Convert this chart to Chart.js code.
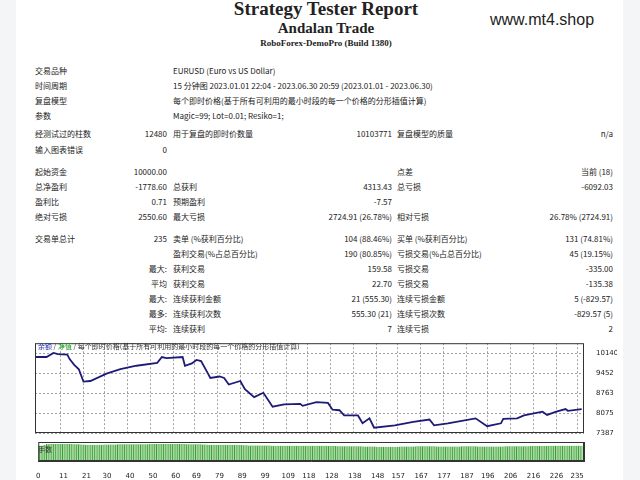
<!DOCTYPE html>
<html>
<head>
<meta charset="utf-8">
<script src="https://cdn.jsdelivr.net/npm/chart.js"></script>
<style>
  body { margin: 0; width: 640px; height: 480px; background: #f4f5f7; overflow: hidden; position: relative;
         font-family: "Noto Sans CJK SC", "DejaVu Sans", sans-serif; font-size: 8px; color: #222; }
  #page { position: absolute; left: 16px; top: 0; width: 607px; height: 480px; background: #fff; z-index: 0; }
  .t { position: absolute; white-space: nowrap; line-height: 10px; z-index: 2; }
  .r { text-align: right; }
  .serif { font-family: "Liberation Serif", "DejaVu Serif", serif; font-weight: bold; text-align: center; width: 400px; left: 110px; }
  .box { position: absolute; z-index: 1; }
</style>
</head>
<body>
<div id="page"></div>
<div class="box" style="left:33px; top:335px; width:600px; height:108px;"><canvas id="equity" width="600" height="108"></canvas></div>
<div class="box" style="left:33px; top:440px; width:600px; height:40px;"><canvas id="lots" width="600" height="40"></canvas></div>
<div class="t" style="left:38px; top:341px; font-size:7px; color:#333;"><span style="color:#2233aa">余额</span> / <span style="color:#119911">净值</span> / 每个即时价格(基于所有可利用的最小时段的每一个价格的分形插值计算)</div>
<div class="t" style="left:38px; top:444px; font-size:7px; color:#333;">手数</div>
<script>
// equity curve (trade number, balance)
const tradeNo = [0, 5, 8, 10, 14, 15, 17, 19, 21, 24, 31, 37, 44, 53, 55, 57, 64, 65, 68, 70, 72, 75, 76, 80, 82, 84, 89, 91, 95, 99,
  103, 108, 115, 116, 122, 127, 129, 132, 134, 140, 142, 145, 147, 156, 164, 171, 173, 179, 191, 196, 202, 203, 209, 212, 220, 222, 226, 230, 231, 237];
const balance = [10000, 10000, 10140, 10100, 10080, 9930, 9730, 9580, 9155, 9175, 9430, 9580, 9700, 9800, 10000, 9960, 10000, 9700, 9780, 9900, 9860, 9430, 9280, 9330, 9280, 9055, 9175, 8895, 8620, 8770,
  8290, 8370, 8390, 8320, 8450, 8420, 8190, 8170, 7990, 7990, 7720, 7890, 7570, 7650, 7770, 7850, 7650, 7720, 7890, 7620, 7720, 7870, 7890, 7990, 8120, 8010, 8120, 8210, 8150, 8210];
const yTicks = [7387, 8075, 8763, 9452, 10140];
const xTicks = [0, 11, 21, 30, 40, 50, 60, 69, 79, 89, 99, 109, 118, 128, 138, 148, 157, 167, 177, 187, 196, 206, 216, 226, 235];
// lot size per trade
const lots = [
  .08, .08, .08, .085, .09, .09, .09, .09, .09, .09,
  .09, .09, .09, .09, .09, .09, .088, .088, .088, .087,
  .087, .086, .086, .086, .086, .086, .086, .086, .086, .087,
  .087, .087, .087, .087, .087, .088, .088, .088, .088, .088,
  .088, .088, .088, .088, .088, .088, .088, .088, .088, .089,
  .089, .089, .089, .089, .089, .089, .089, .089, .089, .09,
  .09, .09, .09, .09, .09, .088, .088, .088, .088, .088,
  .088, .088, .087, .087, .086, .086, .086, .086, .086, .086,
  .086, .086, .085, .085, .085, .085, .085, .085, .084, .084,
  .083, .083, .082, .082, .082, .082, .082, .082, .082, .082,
  .081, .081, .080, .080, .080, .080, .080, .080, .080, .080,
  .080, .080, .080, .080, .080, .080, .080, .080, .080, .080,
  .080, .080, .080, .080, .080, .080, .080, .079, .079, .079,
  .079, .078, .078, .078, .078, .078, .078, .078, .078, .078,
  .077, .077, .076, .076, .076, .076, .076, .076, .075, .075,
  .075, .075, .075, .075, .075, .075, .075, .075, .076, .076,
  .076, .076, .076, .076, .076, .077, .077, .077, .077, .077,
  .077, .077, .077, .077, .076, .076, .076, .076, .076, .076,
  .076, .076, .076, .076, .076, .077, .077, .077, .077, .077,
  .077, .077, .076, .076, .076, .076, .076, .076, .076, .076,
  .076, .076, .076, .076, .077, .077, .077, .077, .077, .077,
  .078, .078, .078, .078, .078, .079, .079, .079, .079, .079,
  .079, .079, .079, .080, .080, .080, .080, .080, .080, .080,
  .080, .080, .080, .080, .080, .080, .080, .080];

// report text rows: [centre y, label1, value1, label2, value2, label3, value3]
const rows = [
  [71, '交易品种', '', 'EURUSD (Euro vs US Dollar)'],
  [86, '时间周期', '', '15 分钟图 2023.01.01 22:04 - 2023.06.30 20:59 (2023.01.01 - 2023.06.30)'],
  [101, '复盘模型', '', '每个即时价格(基于所有可利用的最小时段的每一个价格的分形插值计算)'],
  [116, '参数', '', 'Magic=99; Lot=0.01; Resiko=1;'],
  [134, '经测试过的柱数', '12480', '用于复盘的即时价数量', '10103771', '复盘模型的质量', 'n/a'],
  [150, '输入图表错误', '0'],
  [172, '起始资金', '10000.00', '', '', '点差', '当前 (18)'],
  [187, '总净盈利', '-1778.60', '总获利', '4313.43', '总亏损', '-6092.03'],
  [202, '盈利比', '0.71', '预期盈利', '-7.57'],
  [217, '绝对亏损', '2550.60', '最大亏损', '2724.91 (26.78%)', '相对亏损', '26.78% (2724.91)'],
  [239, '交易单总计', '235', '卖单 (%获利百分比)', '104 (88.46%)', '买单 (%获利百分比)', '131 (74.81%)'],
  [254, '', '', '盈利交易(%占总百分比)', '190 (80.85%)', '亏损交易(%占总百分比)', '45 (19.15%)'],
  [269, '', '最大:', '获利交易', '159.58', '亏损交易', '-335.00'],
  [284, '', '平均', '获利交易', '22.70', '亏损交易', '-135.38'],
  [299, '', '最大:', '连续获利金额', '21 (555.30)', '连续亏损金额', '5 (-829.57)'],
  [314, '', '最多:', '连续获利次数', '555.30 (21)', '连续亏损次数', '-829.57 (5)'],
  [329, '', '平均:', '连续获利', '7', '连续亏损', '2']
];

let html = `
  <div class="t serif" style="top:-3px; font-size:19px; line-height:24px;">Strategy Tester Report</div>
  <div class="t serif" style="top:19px; font-size:15px; line-height:18px;">Andalan Trade</div>
  <div class="t serif" style="top:37px; font-size:9px; line-height:12px;">RoboForex-DemoPro (Build 1380)</div>
  <div class="t" style="left:474px; top:10px; font-size:16px; line-height:20px; font-family:'Liberation Sans', Arial, sans-serif;">www.mt4.shop</div>`;
rows.forEach(r => {
  const top = r[0] - 5;
  html += `<div class="t" style="left:19px; top:${top}px;">${r[1] || ''}</div>`;
  if (r[2]) html += `<div class="t r" style="left:60px; width:91px; top:${top}px;">${r[2]}</div>`;
  if (r[3]) html += `<div class="t" style="left:157px; top:${top}px;">${r[3]}</div>`;
  if (r[4]) html += `<div class="t r" style="left:250px; width:126px; top:${top}px;">${r[4]}</div>`;
  if (r[5]) html += `<div class="t" style="left:381px; top:${top}px;">${r[5]}</div>`;
  if (r[6]) html += `<div class="t r" style="left:480px; width:117px; top:${top}px;">${r[6]}</div>`;
});
document.getElementById('page').innerHTML = html;

const tickFont = { family: 'DejaVu Sans', size: 7 };

// dashed grid at the tick values, plus the frame
const dashedGridPlugin = {
  id: 'dashedGrid',
  beforeDatasetsDraw(c) {
    const a = c.chartArea, ctx = c.ctx;
    ctx.save(); ctx.strokeStyle = '#a0a0a0'; ctx.lineWidth = 1; ctx.setLineDash([2, 2]);
    xTicks.forEach(v => {
      const px = Math.round(c.scales.x.getPixelForValue(v)) + 0.5;
      ctx.beginPath(); ctx.moveTo(px, a.top); ctx.lineTo(px, a.bottom); ctx.stroke();
    });
    yTicks.forEach(v => {
      const py = Math.round(c.scales.y.getPixelForValue(v)) + 0.5;
      ctx.beginPath(); ctx.moveTo(a.left, py); ctx.lineTo(a.right, py); ctx.stroke();
    });
    ctx.restore();
  },
  afterDraw(c) {
    const a = c.chartArea, ctx = c.ctx;
    ctx.save(); ctx.strokeStyle = '#333'; ctx.lineWidth = 1;
    ctx.strokeRect(a.left + 0.5, a.top + 0.5, a.right - a.left - 1, a.bottom - a.top - 1);
    ctx.restore();
  }
};

new Chart(document.getElementById('equity'), {
  type: 'line',
  data: { datasets: [{
    data: tradeNo.map((x, i) => ({ x: x, y: balance[i] })),
    borderColor: '#1c1c78', borderWidth: 1.8, pointRadius: 0, tension: 0
  }] },
  options: {
    responsive: false, animation: false,
    layout: { padding: { left: 2, right: 16, top: 3, bottom: 2 } },
    plugins: { legend: { display: false }, tooltip: { enabled: false } },
    scales: {
      x: { type: 'linear', min: 0, max: 238, ticks: { display: false }, grid: { display: false }, border: { display: false } },
      y: { position: 'right', min: 7387, max: 10475,
           afterBuildTicks: a => { a.ticks = yTicks.map(v => ({ value: v })); },
           ticks: { font: tickFont, color: '#222', padding: 4, callback: v => String(v) },
           grid: { display: false }, border: { display: false }, afterFit: a => { a.width = 33; } }
    }
  },
  plugins: [dashedGridPlugin]
});

new Chart(document.getElementById('lots'), {
  type: 'bar',
  data: { datasets: [{
    data: lots.map((v, i) => ({ x: i, y: v })),
    backgroundColor: '#a8dca0', borderColor: '#3c9a3c', borderWidth: { left: 1, right: 0, top: 0, bottom: 0 },
    barPercentage: 1, categoryPercentage: 1
  }] },
  options: {
    responsive: false, animation: false,
    layout: { padding: { left: 2, right: 16, top: 2, bottom: 0 } },
    plugins: { legend: { display: false }, tooltip: { enabled: false } },
    scales: {
      x: { type: 'linear', min: 0, max: 238, offset: false,
           afterBuildTicks: a => { a.ticks = xTicks.map(v => ({ value: v })); },
           ticks: { font: tickFont, color: '#222', padding: 3, maxRotation: 0, autoSkip: false },
           grid: { display: false }, border: { color: '#333' } },
      y: { position: 'right', min: 0, max: 0.1, ticks: { display: false }, grid: { display: false },
           border: { color: '#333' }, afterFit: a => { a.width = 33; } }
    }
  },
  plugins: [{
    id: 'frame2',
    afterDraw(c) {
      const a = c.chartArea, ctx = c.ctx;
      ctx.save(); ctx.strokeStyle = '#333'; ctx.lineWidth = 1;
      ctx.strokeRect(a.left + 0.5, a.top + 0.5, a.right - a.left - 1, a.bottom - a.top - 1);
      ctx.restore();
    }
  }]
});
</script>
</body>
</html>
